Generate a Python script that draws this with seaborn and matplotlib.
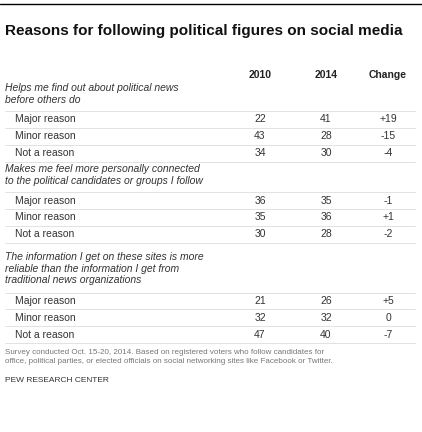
import matplotlib.pyplot as plt
import seaborn as sns

sns.set_style("white")
plt.rcParams['font.family'] = ['Liberation Sans', 'DejaVu Sans']

title = "Reasons for following political figures on social media"
columns = ["2010", "2014", "Change"]
groups = [
    "Helps me find out about political news\nbefore others do",
    "Makes me feel more personally connected\nto the political candidates or groups I follow",
    "The information I get on these sites is more\nreliable than the information I get from\ntraditional news organizations",
]
row_labels = ["Major reason", "Minor reason", "Not a reason"]
v2010 = [[22, 43, 34], [36, 35, 30], [21, 32, 47]]
v2014 = [[41, 28, 30], [35, 36, 28], [26, 32, 40]]
change = [["+19", "-15", "-4"], ["-1", "+1", "-2"], ["+5", "0", "-7"]]
note = ("Survey conducted Oct. 15-20, 2014. Based on registered voters who follow candidates for\n"
        "office, political parties, or elected officials on social networking sites like Facebook or Twitter.")
source = "PEW RESEARCH CENTER"

H = 432
fig = plt.figure(figsize=(4.22, 4.32), dpi=100)
ax = fig.add_axes([0, 0, 1, 1])
ax.set_xlim(0, 422)
ax.set_ylim(0, H)
ax.axis("off")


def Y(py):
    return H - py


ax.plot([0, 422], [Y(4), Y(4)], color="black", lw=1)
ax.text(5, Y(31), title, fontsize=11, fontweight="bold", va="center", color="#111111")

col_x = [260, 326, 388]
for x, c in zip(col_x, columns):
    ax.text(x, Y(75), c, fontsize=7.5, fontweight="bold", ha="center", va="center", color="#222222")

group_top = [89, 170, 258]
line_h = 12.5
for gi, g in enumerate(groups):
    n = g.count("\n") + 1
    ax.text(5, Y(group_top[gi] - 6), g, fontsize=7.5, style="italic", va="top",
            color="#333333", linespacing=1.2)
    y0 = group_top[gi] + (n - 1) * line_h + 18
    for ri, lab in enumerate(row_labels):
        y = y0 + ri * 16.8
        ax.plot([5, 415], [Y(y - 8.5)] * 2, color="#dddddd", lw=0.6)
        ax.text(15, Y(y), lab, fontsize=7.5, va="center", color="#333333")
        ax.text(col_x[0], Y(y), str(v2010[gi][ri]), fontsize=7.5, ha="center", va="center", color="#333333")
        ax.text(col_x[1], Y(y), str(v2014[gi][ri]), fontsize=7.5, ha="center", va="center", color="#333333")
        ax.text(col_x[2], Y(y), change[gi][ri], fontsize=7.5, ha="center", va="center", color="#333333")
    ax.plot([5, 415], [Y(y0 + 2 * 16.8 + 8.5)] * 2, color="#dddddd", lw=0.6)

ax.text(5, Y(349), note, fontsize=5.8, va="top", color="#777777", linespacing=1.35)
ax.text(5, Y(380), source, fontsize=6, va="center", color="#333333")

fig.savefig("out.png", dpi=100)
